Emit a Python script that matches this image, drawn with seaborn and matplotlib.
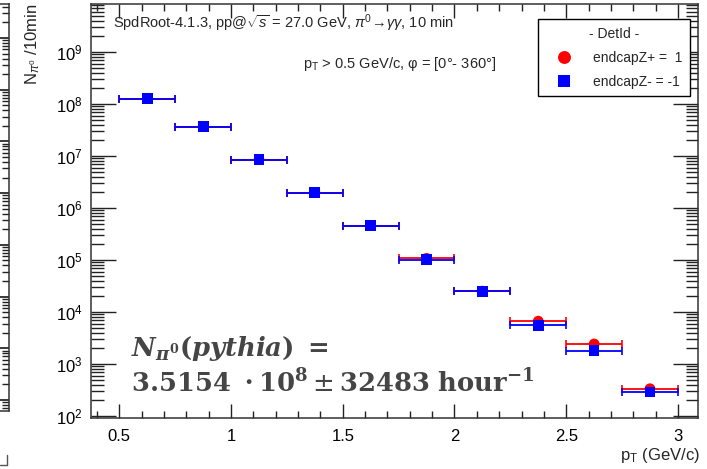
import numpy as np
import pandas as pd
import matplotlib
matplotlib.use("Agg")
import matplotlib.pyplot as plt
import seaborn as sns
from matplotlib.ticker import LogLocator, MultipleLocator, NullFormatter, LogFormatterMathtext, FixedLocator, FixedFormatter
from matplotlib.lines import Line2D

# ---------------- data ----------------
pt_centers = [0.625, 0.875, 1.125, 1.375, 1.625, 1.875, 2.125, 2.375, 2.625, 2.875]
pt_halfwidth = [0.125, 0.125, 0.125, 0.125, 0.125, 0.125, 0.125, 0.125, 0.125, 0.125]
n_endcap_plus = [1.28e8, 3.7e7, 8.55e6, 1.98e6, 4.6e5, 1.08e5, 2.53e4, 6.7e3, 2.44e3, 336]
n_endcap_minus = [1.28e8, 3.7e7, 8.55e6, 1.98e6, 4.6e5, 1.02e5, 2.53e4, 5.6e3, 1.81e3, 290]
series_labels = ["endcapZ+ =  1", "endcapZ- = -1"]
series_colors = ["#ff0000", "#0000ff"]
x_ticks = [0.5, 1, 1.5, 2, 2.5, 3]
x_tick_labels = ["0.5", "1", "1.5", "2", "2.5", "3"]

sns.set_theme(style="ticks")
plt.rcParams['font.family'] = ['Liberation Sans', 'DejaVu Sans']
plt.rcParams['mathtext.fontset'] = 'custom'
plt.rcParams['mathtext.rm'] = 'Liberation Sans'
plt.rcParams['mathtext.it'] = 'Liberation Sans:italic'
plt.rcParams['mathtext.bf'] = 'Liberation Sans:bold'
plt.rcParams['axes.edgecolor'] = '#333333'
plt.rcParams['axes.linewidth'] = 1.1

W, H = 707, 469
fig = plt.figure(figsize=(W / 100, H / 100), dpi=100)
ax = fig.add_axes([91 / W, 1 - 418 / H, 607 / W, 414 / H])

df = pd.DataFrame({
    "pt": pt_centers * 2,
    "n": n_endcap_plus + n_endcap_minus,
    "det": [series_labels[0]] * len(pt_centers) + [series_labels[1]] * len(pt_centers),
})

for vals, col in zip([n_endcap_plus, n_endcap_minus], series_colors):
    ax.errorbar(pt_centers, vals, xerr=pt_halfwidth, fmt='none', ecolor=col,
                elinewidth=1.3, capsize=3, capthick=1.2, zorder=2)

sns.scatterplot(data=df, x="pt", y="n", hue="det", style="det",
                hue_order=series_labels, style_order=series_labels,
                palette=dict(zip(series_labels, series_colors)),
                markers=dict(zip(series_labels, ["o", "s"])),
                s=60, linewidth=0, ax=ax, zorder=3)

ax.set_yscale("log")
ax.set_xlim(0.373, 3.09)
ax.set_ylim(92, 8.4e9)

ax.xaxis.set_major_locator(FixedLocator(x_ticks))
ax.xaxis.set_major_formatter(FixedFormatter(x_tick_labels))
ax.xaxis.set_minor_locator(MultipleLocator(0.1))
ax.yaxis.set_major_locator(LogLocator(base=10, numticks=20))
ax.yaxis.set_major_formatter(LogFormatterMathtext())
ax.yaxis.set_minor_locator(LogLocator(base=10, subs=np.arange(2, 10), numticks=20))
ax.yaxis.set_minor_formatter(NullFormatter())

ax.tick_params(axis='both', which='both', direction='in', top=True, right=True,
               colors='#222222', labelcolor='black', labelsize=12)
ax.tick_params(axis='x', which='major', length=10, width=1.0, pad=8)
ax.tick_params(axis='x', which='minor', length=5, width=1.0)
ax.tick_params(axis='y', which='major', length=18, width=1.0, pad=6)
ax.tick_params(axis='y', which='minor', length=9, width=1.0)

ax.set_xlabel(r"p$_{\rm T}$ (GeV/c)", fontsize=12, loc='right', va='top')
ax.xaxis.set_label_coords((700 - 91) / 607, -(446 - 418) / 414)
ax.set_ylabel(r"N$_{\pi^0}$ /10min", fontsize=12, loc='top')
ax.yaxis.set_label_coords(-(91 - 42) / 607, 1.0)

# legend
sns.move_legend(ax, "upper right", bbox_to_anchor=((690 - 91) / 607, 1 - (19 - 4) / 414),
                borderaxespad=0, title="- DetId -", frameon=True, fontsize=10,
                title_fontsize=10, fancybox=False, edgecolor='black',
                borderpad=0.55, labelspacing=0.72, handletextpad=0.8, markerscale=1.2,
                handlelength=2.6)
leg = ax.get_legend()
leg.get_frame().set_linewidth(1.0)
leg.get_frame().set_alpha(1)

# annotations
ax.text((113 - 91) / 607, 1 - (28 - 4) / 414,
        r"SpdRoot-4.1.3, pp@$\sqrt{s}$ = 27.0 GeV, $\pi^{0}\!\rightarrow\!\gamma\gamma$, 10 min",
        transform=ax.transAxes, fontsize=10.5, ha='left', va='baseline')
ax.text((496 - 91) / 607, 1 - (68 - 4) / 414,
        r"p$_{\rm T}$ > 0.5 GeV/c, φ = [0°- 360°]",
        transform=ax.transAxes, fontsize=10.5, ha='right', va='baseline')

ax.text((131 - 91) / 607, 1 - (356 - 4) / 414,
        r"$\mathbfit{N}_{\mathbfit{\pi}^{\mathbf{0}}}\mathbf{(}\mathbfit{pythia}\mathbf{)}\ \mathbf{=}$",
        transform=ax.transAxes, fontsize=18.6, ha='left', va='baseline',
        color='#454545', math_fontfamily='dejavuserif')
ax.text((131 - 91) / 607, 1 - (392 - 4) / 414,
        r"$\mathbf{3.5154\ \cdot 10^{8}} \pm \mathbf{32483\ hour^{-1}}$",
        transform=ax.transAxes, fontsize=18.6, ha='left', va='baseline',
        color='#454545', math_fontfamily='dejavuserif')

# fragment of neighbouring pad on the left edge
ax2 = fig.add_axes([-40 / W, 1 - 411 / H, 49 / W, 407 / H])
ax2.set_yscale("log")
ax2.set_ylim(10 ** 0.786, 10 ** 8.658)
ax2.set_xlim(0, 1)
ax2.set_xticks([])
ax2.yaxis.set_major_locator(LogLocator(base=10, numticks=20))
ax2.yaxis.set_minor_locator(LogLocator(base=10, subs=np.arange(2, 10), numticks=20))
ax2.yaxis.set_major_formatter(NullFormatter())
ax2.yaxis.set_minor_formatter(NullFormatter())
ax2.tick_params(axis='y', which='both', direction='in', left=False, right=True,
                labelleft=False, labelright=False, colors='#222222')
ax2.tick_params(axis='y', which='major', length=9)
ax2.tick_params(axis='y', which='minor', length=5)
ax2.xaxis.label.set_visible(False)
ax2.yaxis.label.set_visible(False)
ax2.xaxis.offsetText.set_visible(False)
ax2.yaxis.offsetText.set_visible(False)
ax2.title.set_visible(False)
ax2._left_title.set_visible(False)
ax2._right_title.set_visible(False)
ax2.set_facecolor('none')
fig.add_artist(Line2D([7 / W, 7 / W], [1 - 455 / H, 1 - 465 / H], color='#555555', lw=1))
fig.add_artist(Line2D([0, 7 / W], [1 - 465 / H, 1 - 465 / H], color='#555555', lw=1))

fig.savefig("out.png", dpi=100)
